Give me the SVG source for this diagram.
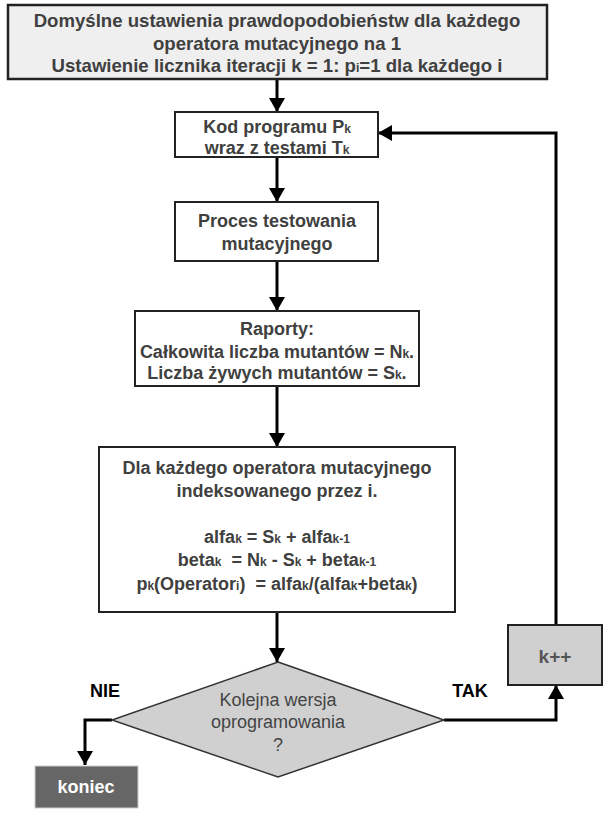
<svg xmlns="http://www.w3.org/2000/svg" width="615" height="819" viewBox="0 0 615 819">
<defs>
<marker id="ah" markerUnits="userSpaceOnUse" markerWidth="14" markerHeight="16" refX="14" refY="8" orient="auto">
<path d="M0,0 L14,8 L0,16 z" fill="#000"/>
</marker>
<style>
.box{fill:#fff;stroke:#222;stroke-width:2}
.t{font-family:"Liberation Sans",Arial,sans-serif;font-weight:bold;font-size:18px;fill:#404040;text-anchor:middle}
.s{font-size:12px}
.c{fill:none;stroke:#000;stroke-width:3;marker-end:url(#ah)}
.lbl{font-family:"Liberation Sans",Arial,sans-serif;font-weight:bold;font-size:18px;fill:#000;text-anchor:middle}
.d{font-family:"Liberation Sans",Arial,sans-serif;font-size:18px;fill:#444;text-anchor:middle}
</style>
</defs>
<rect width="615" height="819" fill="#fff"/>
<g id="connectors">
<path class="c" d="M277,79 V112"/>
<path class="c" d="M277,157 V202"/>
<path class="c" d="M277,261 V311"/>
<path class="c" d="M277,386 V447"/>
<path class="c" d="M277,612 V662"/>
<path class="c" d="M112,720 H85 V765"/>
<path class="c" d="M444,720 H556 V685"/>
<path class="c" d="M556,625 V133 H378"/>
</g>
<g id="start">
<rect x="8" y="5" width="539" height="74" fill="#efefef" stroke="#222" stroke-width="2.5"/>
<text class="t" x="277" y="27" style="font-size:18.6px">Domyślne ustawienia prawdopodobieństw dla każdego</text>
<text class="t" x="277" y="50" style="font-size:18.6px">operatora mutacyjnego na 1</text>
<text class="t" x="277" y="72" style="font-size:18.6px">Ustawienie licznika iteracji k = 1: p<tspan class="s">i</tspan>=1 dla każdego i</text>
</g>
<g id="kod">
<rect class="box" x="175" y="112" width="203" height="45"/>
<text class="t" x="277" y="133">Kod programu P<tspan class="s">k</tspan></text>
<text class="t" x="277" y="154">wraz z testami T<tspan class="s">k</tspan></text>
</g>
<g id="proces">
<rect class="box" x="175" y="202" width="203" height="59"/>
<text class="t" x="277" y="227">Proces testowania</text>
<text class="t" x="277" y="250">mutacyjnego</text>
</g>
<g id="raporty">
<rect class="box" x="135" y="311" width="284" height="75"/>
<text class="t" x="277" y="335">Raporty:</text>
<text class="t" x="277" y="358">Całkowita liczba mutantów = N<tspan class="s">k</tspan>.</text>
<text class="t" x="277" y="379">Liczba żywych mutantów = S<tspan class="s">k</tspan>.</text>
</g>
<g id="operator">
<rect class="box" x="99" y="447" width="356" height="165"/>
<text class="t" x="277" y="474">Dla każdego operatora mutacyjnego</text>
<text class="t" x="277" y="497">indeksowanego przez i.</text>
<text class="t" x="277" y="543">alfa<tspan class="s">k</tspan> = S<tspan class="s">k</tspan> + alfa<tspan class="s">k-1</tspan></text>
<text class="t" x="277" y="566" xml:space="preserve">beta<tspan class="s">k</tspan>  = N<tspan class="s">k</tspan> - S<tspan class="s">k</tspan> + beta<tspan class="s">k-1</tspan></text>
<text class="t" x="277" y="590" xml:space="preserve">p<tspan class="s">k</tspan>(Operator<tspan class="s">i</tspan>)  = alfa<tspan class="s">k</tspan>/(alfa<tspan class="s">k</tspan>+beta<tspan class="s">k</tspan>)</text>
</g>
<g id="decision">
<path d="M278,662 L444,720 L278,777 L112,720 z" fill="#d0d0d0" stroke="#333" stroke-width="1.5"/>
<text class="d" x="278" y="706">Kolejna wersja</text>
<text class="d" x="278" y="728">oprogramowania</text>
<text class="d" x="278" y="751">?</text>
</g>
<g id="kpp">
<rect x="508" y="625" width="94" height="60" fill="#d0d0d0" stroke="#222" stroke-width="2"/>
<text class="t" x="555" y="663" style="fill:#555;font-size:19px">k++</text>
</g>
<g id="koniec">
<rect x="35" y="766" width="103" height="42" fill="#666" stroke="#ccc" stroke-width="1"/>
<text class="t" x="86" y="793" style="fill:#fff">koniec</text>
</g>
<g id="labels">
<text class="lbl" x="105" y="697">NIE</text>
<text class="lbl" x="470" y="697">TAK</text>
</g>
</svg>
